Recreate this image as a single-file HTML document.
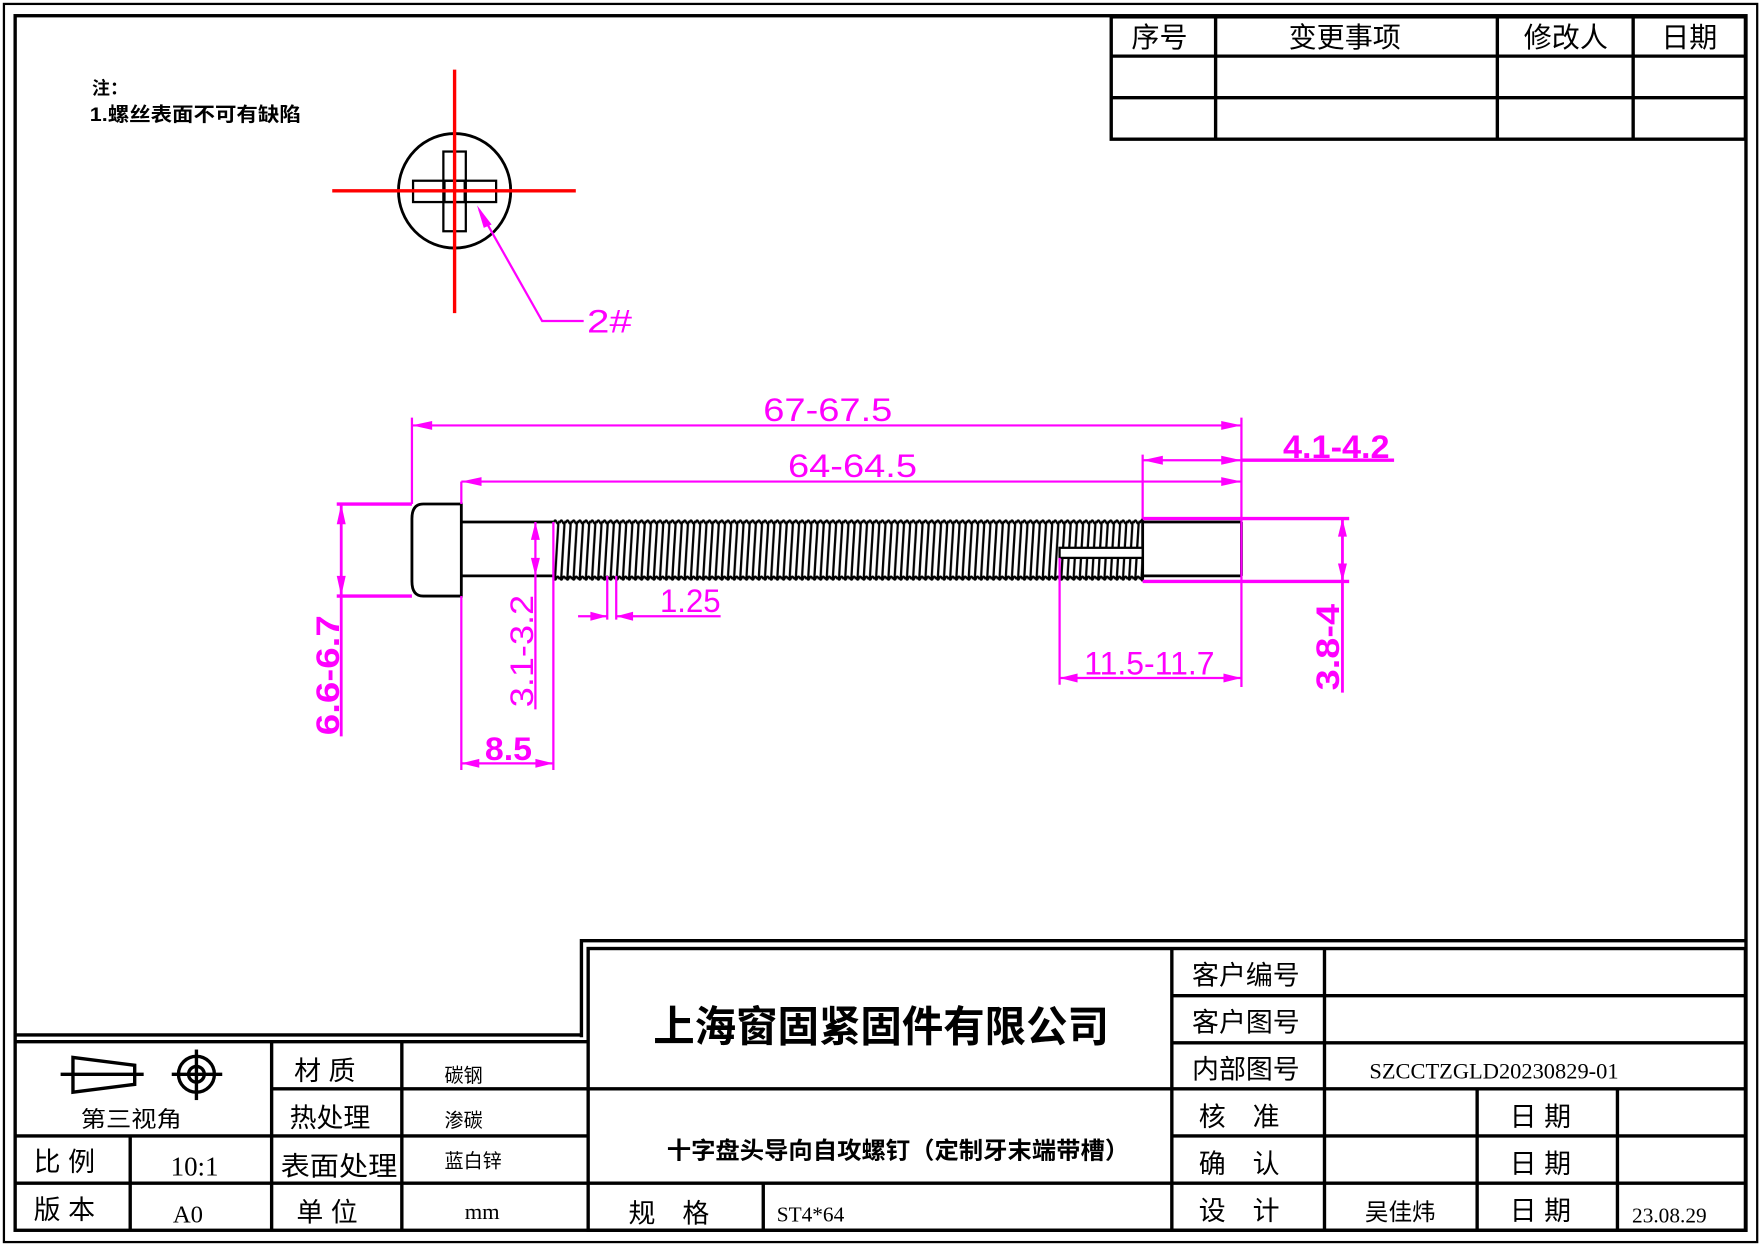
<!DOCTYPE html>
<html><head><meta charset="utf-8"><style>
html,body{margin:0;padding:0;background:#fff;}
svg{display:block;}
text{font-family:"Liberation Serif","Noto Serif CJK SC","Noto Sans CJK SC",serif;}
.m, .m text{fill:#ff00ff;font-family:"Liberation Sans","DejaVu Sans",sans-serif;font-size:29px;}
.t, .t text{font-family:"Liberation Sans","Noto Sans CJK SC",sans-serif;fill:#000;}
.t text.s{font-family:"Liberation Serif",serif;}
</style></head><body>
<svg width="1760" height="1246" viewBox="0 0 1568 1110" preserveAspectRatio="none" xmlns="http://www.w3.org/2000/svg">
<defs>
<pattern id="th" patternUnits="userSpaceOnUse" x="493" y="462" width="5.5" height="56">
<path d="M4.5 3 L1.5 53" stroke="#000" stroke-width="2" fill="none"/>
<path d="M0 4 Q1.4 0 2.75 3 Q4.1 6 5.5 2" stroke="#000" stroke-width="2" fill="none"/>
<path d="M0 52 Q1.4 56 2.75 53 Q4.1 50 5.5 54" stroke="#000" stroke-width="2" fill="none"/>
</pattern>
</defs>
<rect width="1568" height="1110" fill="#fff"/>
<rect x="3.5" y="3.5" width="1562" height="1103" fill="none" stroke="#000" stroke-width="2"/>
<rect x="13.5" y="14" width="1542" height="1082" fill="none" stroke="#000" stroke-width="3"/>

<g stroke="#000" stroke-width="3" fill="none">
<rect x="990" y="15" width="565" height="109"/>
<line x1="990" y1="50" x2="1555" y2="50"/>
<line x1="990" y1="87" x2="1555" y2="87"/>
<line x1="1083" y1="15" x2="1083" y2="124"/>
<line x1="1334" y1="15" x2="1334" y2="124"/>
<line x1="1455" y1="15" x2="1455" y2="124"/>
</g>
<g class="t" font-size="25" text-anchor="middle">
<text x="1033" y="42">序号</text>
<text x="1198" y="42">变更事项</text>
<text x="1395" y="42">修改人</text>
<text x="1505" y="42">日期</text>
</g>

<text class="t" x="82" y="84" font-size="16" font-weight="bold">注：</text>
<text class="t" x="80" y="108" font-size="17" font-weight="bold" textLength="188" lengthAdjust="spacingAndGlyphs">1.螺丝表面不可有缺陷</text>

<ellipse cx="405" cy="170" rx="50" ry="51" fill="none" stroke="#000" stroke-width="2.5"/>
<g stroke="#000" stroke-width="2" fill="none">
<rect x="395" y="135" width="20" height="71"/>
<rect x="368" y="161" width="74" height="19"/>
<rect x="396" y="161" width="18" height="19"/>
</g>
<g stroke="#ff0000" stroke-width="3">
<line x1="296" y1="170" x2="513" y2="170"/>
<line x1="405" y1="62" x2="405" y2="279"/>
</g>
<polyline points="427,187 483,286 520,286" stroke="#ff00ff" stroke-width="2" fill="none"/>
<polygon points="425,183 438,200 431,203" fill="#ff00ff"/>
<text class="m" x="523" y="296" textLength="40" lengthAdjust="spacingAndGlyphs">2#</text>

<g stroke="#000" stroke-width="2.5" fill="none">
<path d="M411 449 L377 449 Q367 449 367 462 L367 518 Q367 531 377 531 L411 531 Z"/>
<line x1="411" y1="465" x2="493" y2="465"/>
<line x1="411" y1="513" x2="493" y2="513"/>
<line x1="1018" y1="465" x2="1106" y2="465"/>
<line x1="1018" y1="513" x2="1106" y2="513"/>
<line x1="1106" y1="465" x2="1106" y2="513"/>
<line x1="1018" y1="462" x2="1018" y2="518"/>
</g>
<rect x="493" y="462" width="525" height="56" fill="url(#th)"/>
<rect x="944" y="488" width="74" height="9" fill="#fff" stroke="#000" stroke-width="2"/>

<g stroke="#ff00ff" stroke-width="2" fill="none">
<line x1="367" y1="372" x2="367" y2="449"/>
<line x1="1106" y1="372" x2="1106" y2="612"/>
<line x1="367" y1="379" x2="1106" y2="379"/>
<line x1="411" y1="429" x2="1106" y2="429"/>
<line x1="411" y1="429" x2="411" y2="449"/>
<line x1="411" y1="531" x2="411" y2="686"/>
<line x1="1018" y1="405" x2="1018" y2="462"/>
<line x1="1018" y1="410" x2="1106" y2="410"/>
<line x1="1106" y1="410" x2="1242" y2="410" stroke-width="3"/>
<line x1="300" y1="449" x2="367" y2="449" stroke-width="3"/>
<line x1="300" y1="531" x2="367" y2="531" stroke-width="3"/>
<line x1="304" y1="449" x2="304" y2="656" stroke-width="2.5"/>
<line x1="477" y1="465" x2="477" y2="632"/>
<line x1="493" y1="465" x2="493" y2="686"/>
<line x1="411" y1="680" x2="493" y2="680"/>
<line x1="541" y1="513" x2="541" y2="552"/>
<line x1="549" y1="513" x2="549" y2="552"/>
<line x1="515" y1="549" x2="541" y2="549"/>
<line x1="549" y1="549" x2="642" y2="549"/>
<line x1="944" y1="497" x2="944" y2="610"/>
<line x1="944" y1="604" x2="1106" y2="604"/>
<line x1="1018" y1="462" x2="1202" y2="462" stroke-width="3"/>
<line x1="1018" y1="518" x2="1202" y2="518" stroke-width="3"/>
<line x1="1196" y1="462" x2="1196" y2="617" stroke-width="2.5"/>
</g>
<g fill="#ff00ff">
<polygon points="367,379 385,375 385,383"/><polygon points="1106,379 1088,375 1088,383"/>
<polygon points="411,429 429,425 429,433"/><polygon points="1106,429 1088,425 1088,433"/>
<polygon points="1018,410 1036,406 1036,414"/><polygon points="1106,410 1088,406 1088,414"/>
<polygon points="304,449 300,467 308,467"/><polygon points="304,531 300,513 308,513"/>
<polygon points="477,465 473,481 481,481"/><polygon points="477,513 473,497 481,497"/>
<polygon points="411,680 427,676 427,684"/><polygon points="493,680 477,676 477,684"/>
<polygon points="541,549 526,545 526,553"/><polygon points="549,549 564,545 564,553"/>
<polygon points="944,604 960,600 960,608"/><polygon points="1106,604 1090,600 1090,608"/>
<polygon points="1196,462 1192,478 1200,478"/><polygon points="1196,518 1192,502 1200,502"/>
</g>
<g class="m">
<text x="680" y="375" textLength="115" lengthAdjust="spacingAndGlyphs">67-67.5</text>
<text x="702" y="425" textLength="115" lengthAdjust="spacingAndGlyphs">64-64.5</text>
<text x="1143" y="408" font-weight="bold" textLength="95" lengthAdjust="spacingAndGlyphs">4.1-4.2</text>
<text x="588" y="545" textLength="54" lengthAdjust="spacingAndGlyphs">1.25</text>
<text x="432" y="677" font-weight="bold" textLength="42" lengthAdjust="spacingAndGlyphs">8.5</text>
<text x="966" y="601" textLength="116" lengthAdjust="spacingAndGlyphs">11.5-11.7</text>
<text transform="translate(302,655) rotate(-90)" font-weight="bold" textLength="107" lengthAdjust="spacingAndGlyphs">6.6-6.7</text>
<text transform="translate(475,630) rotate(-90)" textLength="100" lengthAdjust="spacingAndGlyphs">3.1-3.2</text>
<text transform="translate(1193,615) rotate(-90)" font-weight="bold" textLength="77" lengthAdjust="spacingAndGlyphs">3.8-4</text>
</g>

<g stroke="#000" stroke-width="3" fill="none">
<polyline points="518,924 518,838 1556,838"/>
<polyline points="14,922 518,922"/>
<rect x="524" y="845" width="1031" height="251"/>
<line x1="14" y1="928" x2="524" y2="928"/>
<line x1="242" y1="928" x2="242" y2="1096"/>
<line x1="358" y1="928" x2="358" y2="1096"/>
<line x1="116" y1="1012" x2="116" y2="1096"/>
<line x1="242" y1="970" x2="524" y2="970"/>
<line x1="14" y1="1012" x2="524" y2="1012"/>
<line x1="14" y1="1054" x2="1555" y2="1054"/>
<line x1="524" y1="970" x2="1555" y2="970"/>
<line x1="1044" y1="845" x2="1044" y2="1096"/>
<line x1="1180" y1="845" x2="1180" y2="1096"/>
<line x1="1044" y1="887" x2="1555" y2="887"/>
<line x1="1044" y1="929" x2="1555" y2="929"/>
<line x1="1044" y1="1012" x2="1555" y2="1012"/>
<line x1="680" y1="1054" x2="680" y2="1096"/>
<line x1="1316" y1="970" x2="1316" y2="1096"/>
<line x1="1441" y1="970" x2="1441" y2="1096"/>
</g>
<g stroke="#000" stroke-width="3" fill="none">
<polygon points="65,942 120,949 120,966 65,973"/>
<line x1="54" y1="957" x2="128" y2="957"/>
<circle cx="175" cy="957" r="16"/>
<circle cx="175" cy="957" r="7"/>
<line x1="175" y1="935" x2="175" y2="980"/>
<line x1="153" y1="957" x2="198" y2="957"/>
</g>
<g class="t" font-size="24">
<text x="72" y="1004" font-size="20" textLength="90" lengthAdjust="spacingAndGlyphs">第三视角</text>
<text x="262" y="962">材 质</text>
<text x="258" y="1004">热处理</text>
<text x="250" y="1047" textLength="104" lengthAdjust="spacingAndGlyphs">表面处理</text>
<text x="264" y="1088">单 位</text>
<text x="30" y="1043">比 例</text>
<text x="30" y="1086">版 本</text>
<text x="396" y="964" font-size="17">碳钢</text>
<text x="396" y="1004" font-size="17">渗碳</text>
<text x="396" y="1040" font-size="17">蓝白锌</text>
<text class="s" x="152" y="1047" font-size="24">10:1</text>
<text class="s" x="154" y="1089" font-size="22">A0</text>
<text class="s" x="414" y="1086" font-size="20">mm</text>
<text x="582" y="928" font-size="38" font-weight="bold" textLength="406" lengthAdjust="spacingAndGlyphs">上海窗固紧固件有限公司</text>
<text x="594" y="1032" font-size="21" font-weight="bold" textLength="412" lengthAdjust="spacingAndGlyphs">十字盘头导向自攻螺钉（定制牙末端带槽）</text>
<text x="560" y="1089">规　格</text>
<text class="s" x="692" y="1088" font-size="19">ST4*64</text>
<text x="1062" y="877">客户编号</text>
<text x="1062" y="919">客户图号</text>
<text x="1062" y="961">内部图号</text>
<text class="s" x="1220" y="961" font-size="20" textLength="222" lengthAdjust="spacingAndGlyphs">SZCCTZGLD20230829-01</text>
<text x="1068" y="1003">核　准</text>
<text x="1068" y="1045">确　认</text>
<text x="1068" y="1087">设　计</text>
<text x="1345" y="1003">日 期</text>
<text x="1345" y="1045">日 期</text>
<text x="1345" y="1087">日 期</text>
<text x="1216" y="1087" font-size="21">吴佳炜</text>
<text class="s" x="1454" y="1089" font-size="19">23.08.29</text>
</g>
</svg>
</body></html>
